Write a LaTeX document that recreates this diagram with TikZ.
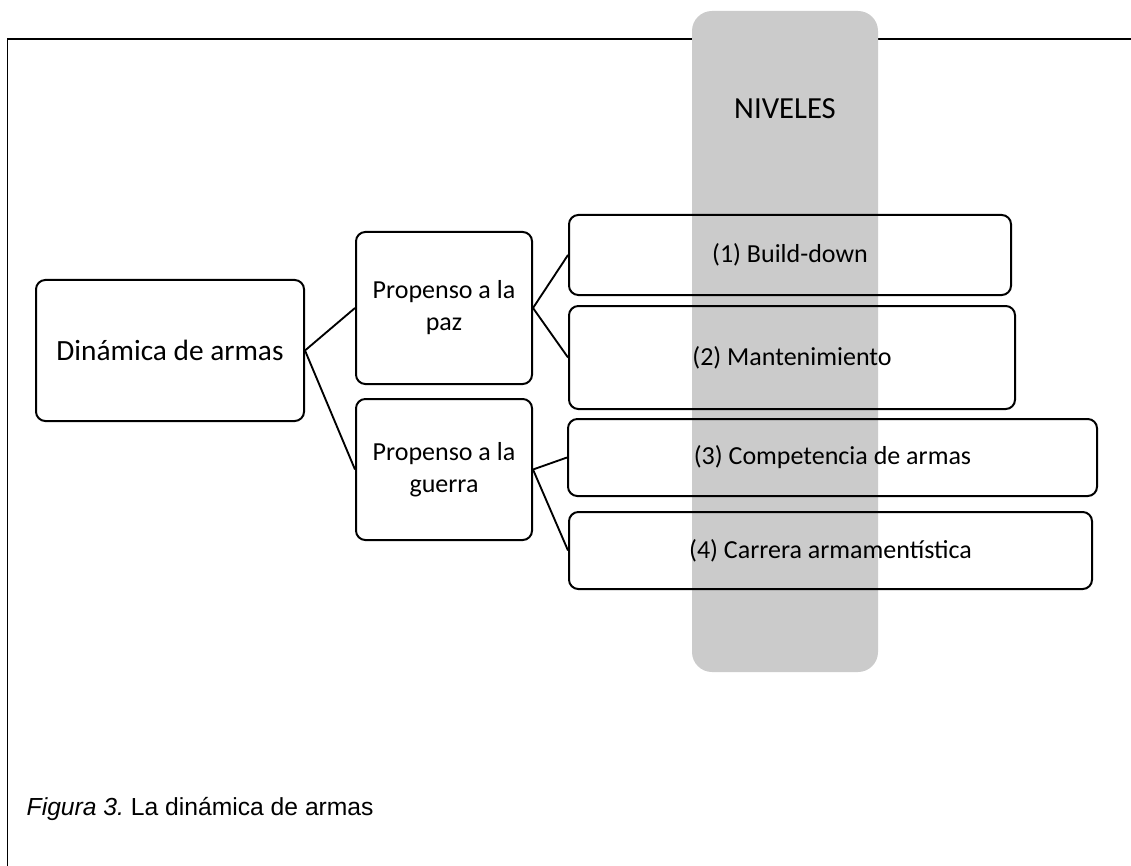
\documentclass[tikz,border=0pt]{standalone}
\usepackage{fontspec}
\setmainfont{Carlito}
\newfontfamily\capfont{Liberation Sans}
\usetikzlibrary{calc}

\tikzset{
  nivbox/.style={draw, line width=1.5pt, rounded corners=7pt, align=center,
    inner sep=0pt, font=\fontsize{19.5}{24}\selectfont},
  conn/.style={line width=1.4pt}
}

\begin{document}
\begin{tikzpicture}[x=0.75pt,y=-0.75pt]
            \useasboundingbox (0,0) rectangle (1131,866);
            % marco
            \draw[line width=1.1pt] (1131,39) -- (7.5,39) -- (7.5,866);
            \fill[fill={rgb,255:red,203;green,203;blue,203}, rounded corners=15pt] (692,11) rectangle (878,672);
            \node[font=\fontsize{23}{27}\selectfont] at (785,109) (niv) {NIVELES};
            % cajas
            \node[nivbox, minimum width=201pt, minimum height=105.75pt, font=\fontsize{22}{26}\selectfont] at (170,350.5) (din) {Din\'amica de armas};
            \node[nivbox, minimum width=132pt, minimum height=114pt] at (444,308) (paz) {Propenso a la\\paz};
            \node[nivbox, minimum width=132pt, minimum height=105.75pt] at (444,469.5) (gue) {Propenso a la\\guerra};
            \node[nivbox, minimum width=331.5pt, minimum height=60pt] at (790,255) (n1) {(1) Build-down};
            \node[nivbox, minimum width=334.5pt, minimum height=77.25pt] at (792,357.5) (n2) {(2) Mantenimiento};
            \node[nivbox, minimum width=396.75pt, minimum height=57.75pt] at (832.5,457.5) (n3) {(3) Competencia de armas};
            \node[nivbox, minimum width=392.25pt, minimum height=57.75pt] at (830.5,550.5) (n4) {(4) Carrera armament\'istica};
            \draw[conn] (din.east)--(paz.west)
            (din.east)--(gue.west)
            (paz.east)--(n1.west)
            (paz.east)--(n2.west)
            (gue.east)--(n3.west)
            (gue.east)--(n4.west)
            ;
            \node[anchor=base west, font=\capfont\fontsize{18.5}{22}\selectfont] at (22,815.7) (cap) {{\itshape Figura 3.}\ La din\'amica de armas};
        \end{tikzpicture}
\end{document}
